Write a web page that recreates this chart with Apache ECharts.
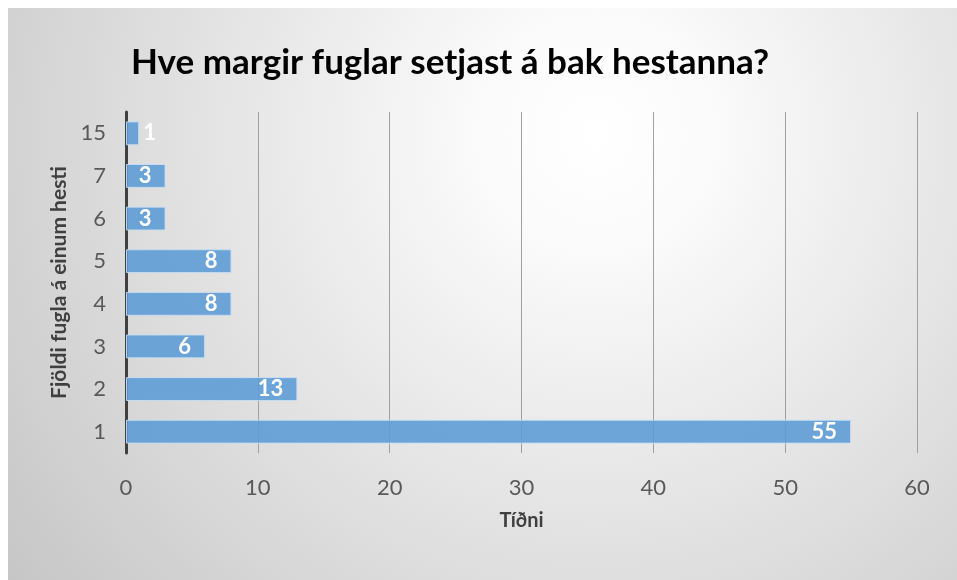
<!DOCTYPE html>
<html>
<head>
<meta charset="utf-8">
<script src="https://cdn.jsdelivr.net/npm/echarts@6/dist/echarts.min.js"></script>
<style>
  html, body { margin: 0; padding: 0; background: #fff; }
  #chart {
    position: absolute; left: 8px; top: 8px; width: 949px; height: 572px;
    background: radial-gradient(circle farthest-corner at 62% 22%, #ffffff 0%, #fbfbfb 15%, #e2e2e2 55%, #c6c6c6 100%);
  }
</style>
</head>
<body>
<div id="chart"></div>
<script>
// fjöldi fugla (categories, bottom to top) og tíðni
const categories = ['1', '2', '3', '4', '5', '6', '7', '15'];
const counts = [55, 13, 6, 8, 8, 3, 3, 1];
const xTicks = [0, 10, 20, 30, 40, 50, 60];

const FONT = 'Lato, "Open Sans", sans-serif';

let chart = echarts.init(document.getElementById('chart'), null, { renderer: 'canvas' });

let option = {
  backgroundColor: 'transparent',
  animation: false,
  title: {
    text: 'Hve margir fuglar setjast á bak hestanna?',
    left: 118,
    top: 32,
    textStyle: { fontFamily: FONT, fontSize: 35, fontWeight: 'bold', color: '#000' }
  },
  grid: { left: 118, top: 104, width: 791, height: 341, containLabel: false },
  xAxis: {
    type: 'value',
    min: xTicks[0],
    max: xTicks[xTicks.length - 1],
    interval: 10,
    name: 'Tíðni',
    nameLocation: 'middle',
    nameGap: 58,
    nameTextStyle: { fontFamily: FONT, fontSize: 20, fontWeight: 'bold', color: '#404040' },
    axisLine: { show: false },
    axisTick: { show: false },
    axisLabel: { fontFamily: FONT, fontSize: 22, color: '#595959', margin: 24 },
    splitLine: { show: true, lineStyle: { color: '#a0a0a0', width: 1 } }
  },
  yAxis: {
    type: 'category',
    data: categories,
    name: 'Fjöldi fugla á einum hesti',
    nameLocation: 'middle',
    nameGap: 45,
    nameTextStyle: { fontFamily: FONT, fontSize: 21, fontWeight: 'bold', color: '#404040' },
    axisLine: { show: true, lineStyle: { color: '#404040', width: 3 } },
    axisTick: { show: false },
    axisLabel: { fontFamily: FONT, fontSize: 22, color: '#595959', margin: 20 },
    splitLine: { show: false }
  },
  series: [{
    type: 'bar',
    barCategoryGap: '44%',
    data: counts.map(v => ({
      value: v,
      label: v < 2 ? { position: 'right', distance: 4 } : {}
    })),
    itemStyle: {
      color: 'rgba(91,155,213,0.88)',
      borderColor: 'rgba(200,222,242,0.9)',
      borderWidth: 1
    },
    label: {
      show: true,
      position: 'insideRight',
      distance: 14,
      fontFamily: FONT,
      fontSize: 22,
      fontWeight: 'bold',
      color: '#fff'
    }
  }]
};
chart.setOption(option);
</script>
</body>
</html>
